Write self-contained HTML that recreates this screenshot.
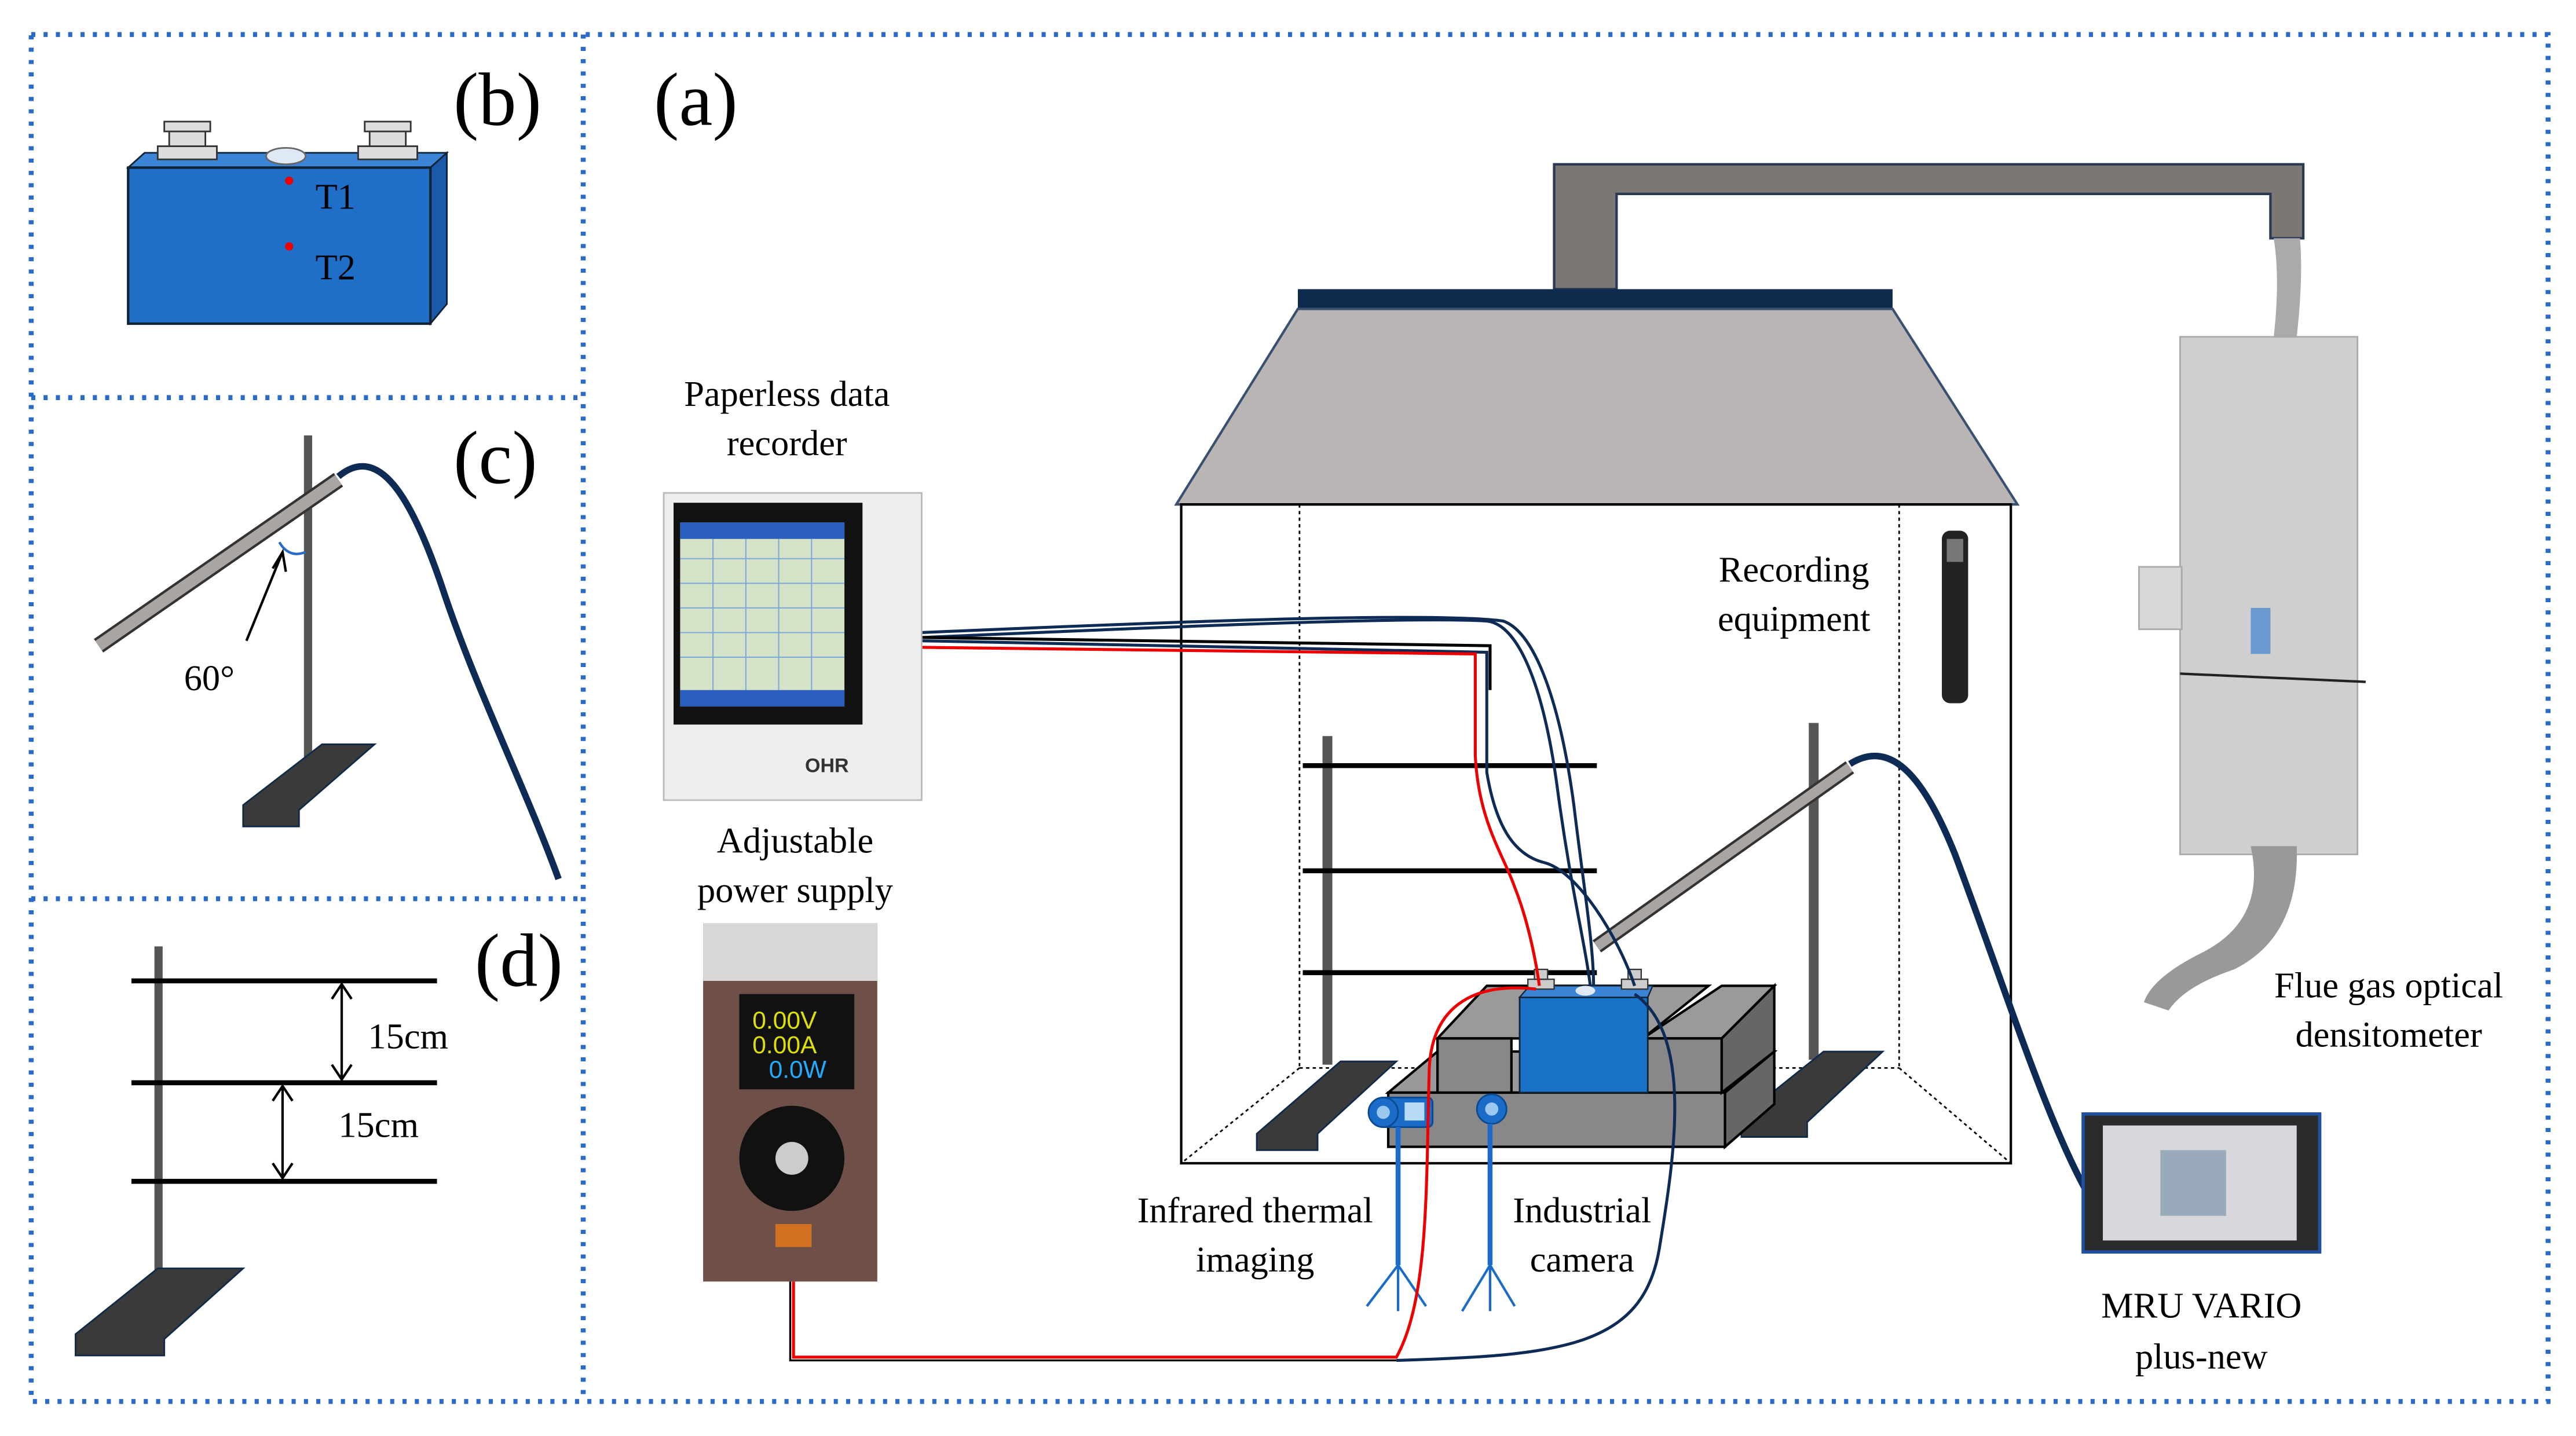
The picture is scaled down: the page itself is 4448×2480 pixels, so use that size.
<!DOCTYPE html>
<html><head><meta charset="utf-8"><style>html,body{margin:0;padding:0;background:#fff}svg{display:block}</style></head>
<body>
<svg width="4448" height="2480" viewBox="0 0 1568 874" preserveAspectRatio="none" xmlns="http://www.w3.org/2000/svg" font-family="Liberation Serif, serif">
<rect width="1568" height="874" fill="#fff"/>
<g stroke="#2a6ac8" stroke-width="3" stroke-dasharray="2.5 5" fill="none">
<rect x="19" y="21" width="1532" height="832"/>
<line x1="355" y1="21" x2="355" y2="853"/>
<line x1="19" y1="242" x2="355" y2="242"/>
<line x1="19" y1="547" x2="355" y2="547"/>
</g>
<g font-size="46" fill="#000">
<text x="276" y="76">(b)</text><text x="398" y="76">(a)</text>
<text x="276" y="294">(c)</text><text x="289" y="600">(d)</text>
</g>
<polygon points="78,102 88,93 272,93 262,102" fill="#3c84d6" stroke="#123" stroke-width="1"/>
<polygon points="262,102 272,93 272,185 262,197" fill="#1a5aa8" stroke="#123" stroke-width="1"/>
<rect x="78" y="102" width="184" height="95" fill="#1f6fc8" stroke="#123" stroke-width="1.5"/>
<ellipse cx="174" cy="95" rx="12" ry="5" fill="#dfe8f5" stroke="#666"/>
<g fill="#ddd" stroke="#333"><rect x="96" y="89" width="36" height="8"/><rect x="103" y="78" width="22" height="11"/><rect x="100" y="74" width="28" height="6"/>
<rect x="218" y="89" width="36" height="8"/><rect x="225" y="78" width="22" height="11"/><rect x="222" y="74" width="28" height="6"/></g>
<circle cx="176" cy="110" r="2.5" fill="#e00"/><circle cx="176" cy="150" r="2.5" fill="#e00"/>
<text x="192" y="127" font-size="22">T1</text><text x="192" y="170" font-size="22">T2</text>
<rect x="185" y="265" width="5" height="200" fill="#555"/>
<polygon points="148,490 196,453 228,453 182,493 182,503 148,503" fill="#3a3a3a" stroke="#102a4a"/>
<line x1="60" y1="393" x2="206" y2="292" stroke="#333" stroke-width="10"/>
<line x1="60" y1="393" x2="206" y2="292" stroke="#a9a5a3" stroke-width="7"/>
<path d="M206,290 C230,270 250,300 270,360 C290,420 320,480 340,535" stroke="#0d2b55" stroke-width="4" fill="none"/>
<path d="M170,330 Q176,340 186,336" stroke="#2a6ac8" stroke-width="1.5" fill="none"/>
<path d="M150,390 L172,336 M166,346 L172,336 L174,348" stroke="#000" stroke-width="1.5" fill="none"/>
<text x="112" y="420" font-size="22">60°</text>
<rect x="94" y="576" width="5" height="200" fill="#555"/>
<polygon points="46,812 96,772 148,772 100,815 100,825 46,825" fill="#3a3a3a" stroke="#102a4a"/>
<g stroke="#000" stroke-width="3"><line x1="80" y1="597" x2="266" y2="597"/><line x1="80" y1="659" x2="266" y2="659"/><line x1="80" y1="719" x2="266" y2="719"/></g>
<g stroke="#000" stroke-width="1.5" fill="none"><path d="M208,599 V657 M202,608 L208,599 L214,608 M202,648 L208,657 L214,648"/>
<path d="M172,661 V717 M166,670 L172,661 L178,670 M166,708 L172,717 L178,708"/></g>
<text x="224" y="638" font-size="22">15cm</text><text x="206" y="692" font-size="22">15cm</text>
<path d="M946,100 H1402 V145 H1382 V118 H984 V176 H946 Z" fill="#7a7775" stroke="#2a3a55" stroke-width="1.5"/>
<path d="M1384,145 Q1388,170 1384,205 L1398,205 Q1402,170 1400,145 Z" fill="#aaa"/>
<rect x="790" y="176" width="362" height="12" fill="#0e2a4d"/>
<polygon points="790,188 1152,188 1228,307 716,307" fill="#b9b5b4" stroke="#3a5070" stroke-width="1.5"/>
<rect x="719" y="307" width="505" height="401" fill="none" stroke="#000" stroke-width="1.5"/>
<g stroke="#000" stroke-width="1" stroke-dasharray="2 2" fill="none">
<line x1="791" y1="307" x2="791" y2="650"/><line x1="1156" y1="307" x2="1156" y2="650"/>
<line x1="791" y1="650" x2="1156" y2="650"/><line x1="791" y1="650" x2="719" y2="708"/><line x1="1156" y1="650" x2="1224" y2="708"/></g>
<rect x="805" y="448" width="6" height="200" fill="#555"/>
<g stroke="#000" stroke-width="3"><line x1="793" y1="466" x2="972" y2="466"/><line x1="793" y1="530" x2="972" y2="530"/><line x1="793" y1="592" x2="972" y2="592"/></g>
<polygon points="765,690 816,646 850,646 802,690 802,700 765,700" fill="#3a3a3a" stroke="#102a4a"/>
<rect x="1101" y="440" width="6" height="205" fill="#555"/>
<polygon points="1060,680 1110,640 1146,640 1100,683 1100,692 1060,692" fill="#3a3a3a" stroke="#102a4a"/>
<g stroke="#000" stroke-width="1.5">
<polygon points="845,665 875,640 1080,640 1050,665" fill="#999"/>
<rect x="845" y="665" width="205" height="33" fill="#888"/>
<polygon points="1050,665 1080,640 1080,672 1050,698" fill="#666"/>
<polygon points="875,632 905,600 1040,600 1000,632" fill="#9a9a9a"/>
<rect x="875" y="632" width="45" height="33" fill="#888"/>
<polygon points="1000,632 1048,600 1080,600 1048,632" fill="#9a9a9a"/>
<rect x="1000" y="632" width="48" height="33" fill="#888"/>
<polygon points="1048,632 1080,600 1080,640 1048,665" fill="#666"/>
</g>
<rect x="925" y="607" width="78" height="58" fill="#1a72c8" stroke="#123"/>
<polygon points="925,607 931,600 1006,600 1003,607" fill="#3c84d6" stroke="#123" stroke-width="0.8"/>
<ellipse cx="965" cy="603" rx="6" ry="3" fill="#dfe8f5"/>
<g fill="#ccc" stroke="#333" stroke-width="0.8"><rect x="930" y="596" width="16" height="6"/><rect x="934" y="590" width="8" height="6"/><rect x="987" y="596" width="16" height="6"/><rect x="991" y="590" width="8" height="6"/></g>
<line x1="972" y1="576" x2="1126" y2="467" stroke="#333" stroke-width="9"/>
<line x1="972" y1="576" x2="1126" y2="467" stroke="#a9a5a3" stroke-width="6"/>
<path d="M1126,465 C1150,450 1170,470 1190,520 C1220,600 1245,680 1270,725" stroke="#0d2b55" stroke-width="4" fill="none"/>
<g fill="#1a6cc8" stroke="#0a4a90">
<rect x="840" y="668" width="32" height="18" rx="3"/><circle cx="842" cy="677" r="9"/>
<circle cx="908" cy="675" r="9"/>
</g>
<circle cx="842" cy="677" r="4" fill="#9cc8f0"/><rect x="855" y="671" width="12" height="11" fill="#b8dcf8"/><circle cx="908" cy="675" r="4" fill="#9cc8f0"/>
<g stroke="#1a6cc8" stroke-width="3" fill="none"><line x1="851" y1="686" x2="851" y2="770"/><line x1="907" y1="684" x2="907" y2="770"/></g>
<g stroke="#1a6cc8" stroke-width="1.5" fill="none"><path d="M851,770 L832,795 M851,770 L851,798 M851,770 L868,795"/><path d="M907,770 L890,798 M907,770 L907,798 M907,770 L922,795"/></g>
<g fill="none" stroke-width="1.8">
<path d="M561,388 C700,382 860,375 905,378 C925,380 940,420 948,480 C956,540 965,575 968,600" stroke="#0d2b55"/>
<path d="M561,385 C700,379 870,372 915,378 C935,385 950,430 958,490 C964,540 970,575 970,600" stroke="#0d2b55"/>
<path d="M561,390 L905,397 L905,470 C910,500 920,520 940,525 C960,530 985,570 995,600" stroke="#0d2b55"/>
<path d="M561,388 L907,393 L907,420" stroke="#000"/>
<path d="M561,394 L898,398 L898,460 C900,500 915,520 922,540 C930,560 935,585 937,600" stroke="#e00"/>
<path d="M483,780 V826 H850 C870,790 868,720 870,650 C872,610 900,598 935,602" stroke="#e00"/>
<path d="M481,780 V828 H850" stroke="#000" stroke-width="1.2"/>
<path d="M850,828 C950,825 1000,820 1010,760 C1020,700 1030,630 995,605" stroke="#0d2b55"/>
</g>
<rect x="404" y="300" width="157" height="187" fill="#eceef0" stroke="#bbb"/>
<rect x="410" y="306" width="115" height="135" fill="#111"/>
<rect x="414" y="318" width="100" height="112" fill="#d4e2c8"/>
<g stroke="#7aa8d8" stroke-width="0.7"><path d="M414,340 H514 M414,355 H514 M414,370 H514 M414,385 H514 M414,400 H514 M434,328 V420 M454,328 V420 M474,328 V420 M494,328 V420"/></g>
<rect x="414" y="318" width="100" height="10" fill="#2a5fc0"/>
<rect x="414" y="420" width="100" height="10" fill="#2a5fc0"/>
<text x="490" y="470" font-size="12" font-family="Liberation Sans, sans-serif" font-weight="bold" fill="#333">OHR</text>
<rect x="428" y="562" width="106" height="218" fill="#6e5048"/>
<rect x="428" y="562" width="106" height="35" fill="#d8d8d8"/>
<rect x="450" y="605" width="70" height="58" fill="#111"/>
<text x="458" y="626" font-size="15" font-family="Liberation Sans, sans-serif" fill="#dde000">0.00V</text>
<text x="458" y="641" font-size="15" font-family="Liberation Sans, sans-serif" fill="#dde000">0.00A</text>
<text x="468" y="656" font-size="15" font-family="Liberation Sans, sans-serif" fill="#22aaff">0.0W</text>
<circle cx="482" cy="705" r="32" fill="#111"/><circle cx="482" cy="705" r="10" fill="#ccc"/>
<rect x="472" y="745" width="22" height="14" fill="#d07020"/>
<rect x="1182" y="323" width="16" height="105" rx="5" fill="#222"/>
<rect x="1185" y="328" width="10" height="14" fill="#777"/>
<rect x="1327" y="205" width="108" height="315" fill="#cfcfcf" stroke="#aaa"/>
<rect x="1302" y="345" width="26" height="38" fill="#d8d8d8" stroke="#aaa"/>
<path d="M1370,515 Q1380,560 1340,580 Q1310,595 1305,610 L1320,615 Q1330,600 1360,590 Q1400,570 1398,515 Z" fill="#999"/>
<line x1="1327" y1="410" x2="1440" y2="415" stroke="#222" stroke-width="1.5"/>
<rect x="1370" y="370" width="12" height="28" fill="#6a9ad0"/>
<rect x="1268" y="678" width="144" height="84" fill="#2a2a2a" stroke="#2050a0" stroke-width="2"/>
<rect x="1280" y="685" width="118" height="70" fill="#d8d8dc"/>
<rect x="1315" y="700" width="40" height="40" fill="#9ab"/>
<g font-size="22" text-anchor="middle" fill="#000">
<text x="479" y="247">Paperless data</text><text x="479" y="277">recorder</text>
<text x="484" y="519">Adjustable</text><text x="484" y="549">power supply</text>
<text x="1092" y="354">Recording</text><text x="1092" y="384">equipment</text>
<text x="1454" y="607">Flue gas optical</text><text x="1454" y="637">densitometer</text>
<text x="764" y="744">Infrared thermal</text><text x="764" y="774">imaging</text>
<text x="963" y="744">Industrial</text><text x="963" y="774">camera</text>
<text x="1340" y="802">MRU VARIO</text><text x="1340" y="833">plus-new</text>
</g>
</svg>
</body></html>
